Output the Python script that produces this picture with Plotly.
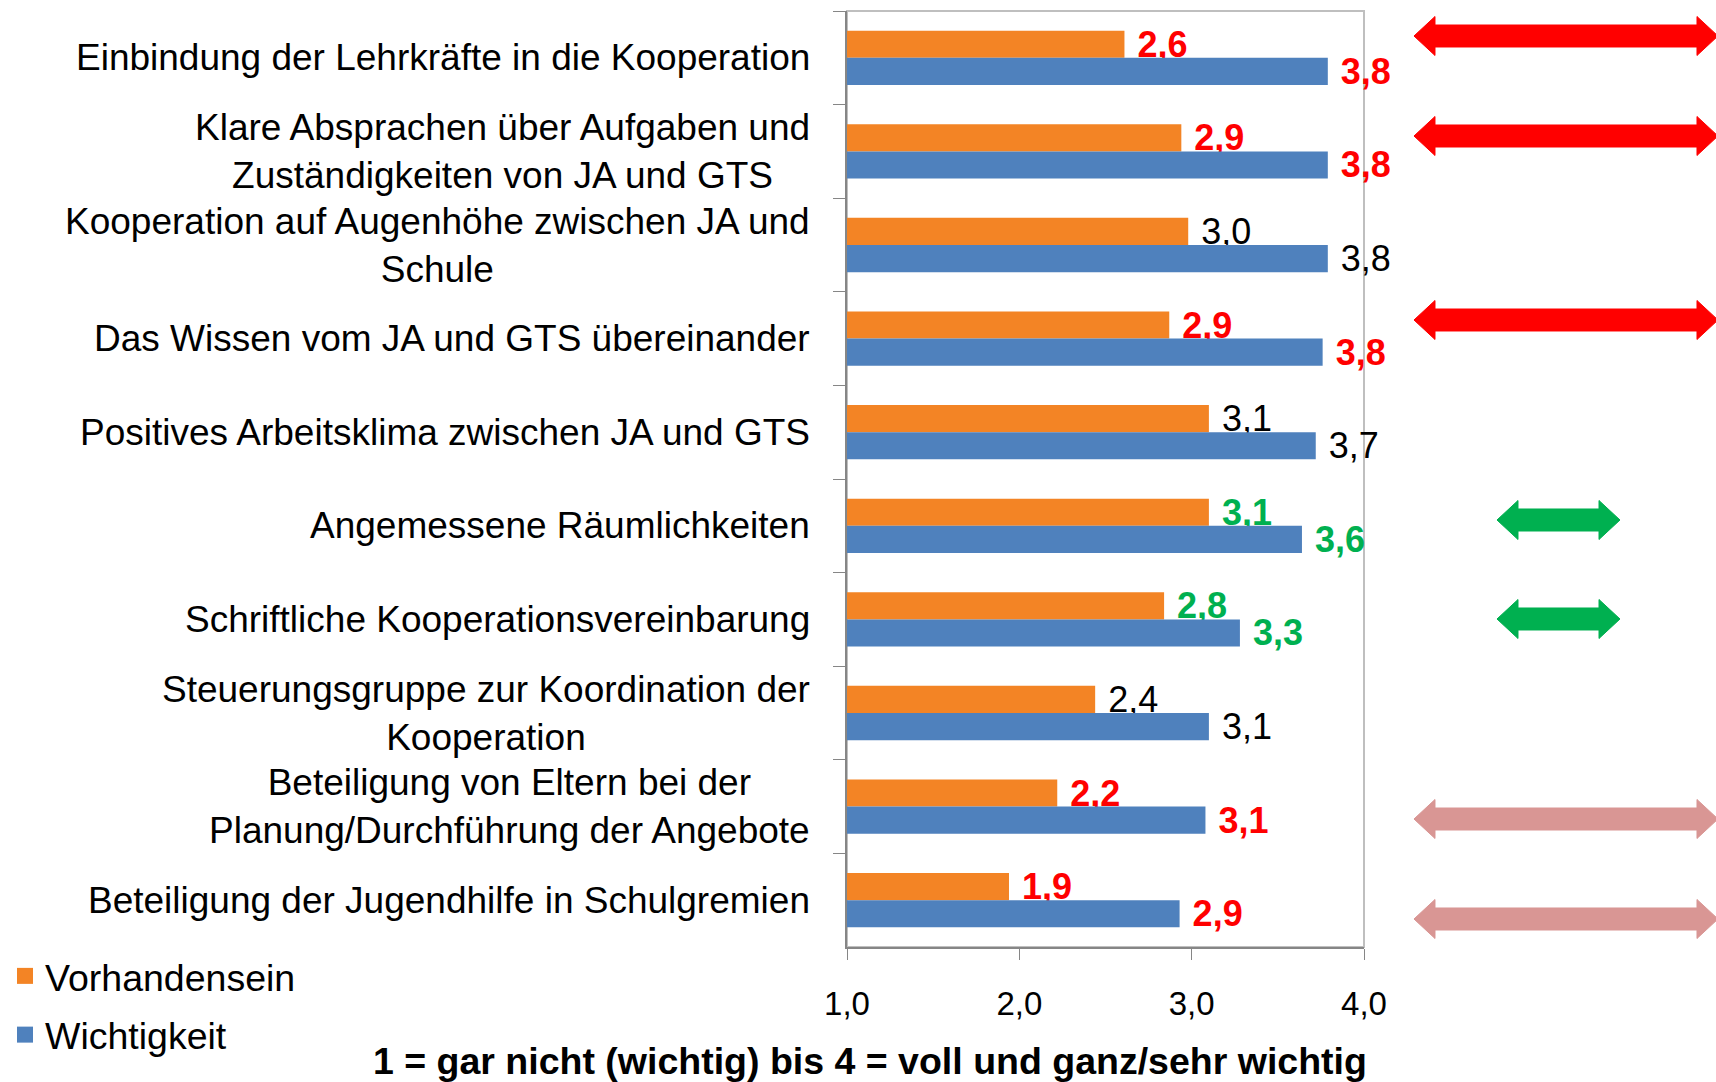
import plotly.graph_objects as go

# ---------------- data ----------------
categories = [
    "Einbindung der Lehrkräfte in die Kooperation",
    "Klare Absprachen über Aufgaben und<br>Zuständigkeiten von JA und GTS",
    "Kooperation auf Augenhöhe zwischen JA und<br>Schule",
    "Das Wissen vom JA und GTS übereinander",
    "Positives Arbeitsklima zwischen JA und GTS",
    "Angemessene Räumlichkeiten",
    "Schriftliche Kooperationsvereinbarung",
    "Steuerungsgruppe zur Koordination der<br>Kooperation",
    "Beteiligung von Eltern bei der<br>Planung/Durchführung der Angebote",
    "Beteiligung der Jugendhilfe in Schulgremien",
]
vorhandensein = [2.61, 2.94, 2.98, 2.87, 3.10, 3.10, 2.84, 2.44, 2.22, 1.94]
wichtigkeit = [3.79, 3.79, 3.79, 3.76, 3.72, 3.64, 3.28, 3.10, 3.08, 2.93]
series_names = ["Vorhandensein", "Wichtigkeit"]
x_tick_values = [1, 2, 3, 4]
x_axis_title = "1 = gar nicht (wichtig) bis 4 = voll und ganz/sehr wichtig"
scale_min = 1

# per-category highlight of the value labels (style)
label_color = ["#FF0000", "#FF0000", "#000000", "#FF0000", "#000000",
               "#00B050", "#00B050", "#000000", "#FF0000", "#FF0000"]

# ---------------- styles ----------------
FONT = "Liberation Sans, Arial, sans-serif"
ORANGE = "#F38425"
BLUE = "#4F81BD"
W, H = 1716, 1082
ML, MR, MT, MB = 847, 352, 11, 135
PW, PH = W - ML - MR, H - MT - MB


def px_x(p):
    return (p - ML) / PW


def px_y(p):
    return (H - MB - p) / PH


def fmt(v, col):
    s = "\u00a0" + f"{v:.1f}".replace(".", ",")
    return s if col == "#000000" else f"<b>{s}</b>"


fig = go.Figure()
for name, vals, col in [(series_names[0], vorhandensein, ORANGE),
                        (series_names[1], wichtigkeit, BLUE)]:
    fig.add_trace(go.Bar(
        name=name, orientation="h", y=categories,
        x=[v - scale_min for v in vals], base=scale_min,
        customdata=vals,
        text=[fmt(v, c) for v, c in zip(vals, label_color)],
        textposition="outside", textangle=0, constraintext="none",
        cliponaxis=False,
        textfont=dict(family=FONT, size=36, color=label_color),
        marker=dict(color=col, line=dict(width=0)),
        hovertemplate="%{y}: %{customdata:.1f}<extra>" + name + "</extra>",
        showlegend=False,
    ))
    # legend entry with a larger square symbol
    fig.add_trace(go.Scatter(
        x=[None], y=[None], mode="markers", name=name, legendgroup=name,
        marker=dict(symbol="square", size=20, color=col),
    ))

# category labels (centered multi-line, right-aligned block)
annotations = []
for c in categories:
    annotations.append(dict(
        x=px_x(812), xref="paper", y=c, yref="y", xanchor="right",
        yanchor="middle", align="center", showarrow=False, text=c,
        font=dict(family=FONT, size=37, color="#000000")))
annotations.append(dict(
    x=px_x(870), xref="paper", y=px_y(1061), yref="paper", xanchor="center",
    yanchor="middle", showarrow=False, text="<b>" + x_axis_title + "</b>",
    font=dict(family=FONT, size=37.5, color="#000000")))


def arrow(x0, x1, yc, color, hl=21, sh=11, hh=19.5):
    pts = [(x0, yc), (x0 + hl, yc - hh), (x0 + hl, yc - sh), (x1 - hl, yc - sh),
           (x1 - hl, yc - hh), (x1, yc), (x1 - hl, yc + hh), (x1 - hl, yc + sh),
           (x0 + hl, yc + sh), (x0 + hl, yc + hh)]
    path = "M " + " L ".join(f"{px_x(a):.5f},{px_y(b):.5f}" for a, b in pts) + " Z"
    return dict(type="path", xref="paper", yref="paper", path=path,
                fillcolor=color, line=dict(color=color, width=1), layer="above")


RED, GREEN, PINK = "#FF0000", "#00B050", "#D99694"
shapes = [
    dict(type="rect", xref="paper", yref="paper", x0=0, x1=1, y0=0, y1=1,
         line=dict(color="#BFBFBF", width=2), layer="below"),
    arrow(1414, 1718, 36, RED),
    arrow(1414, 1718, 136, RED),
    arrow(1414, 1718, 320, RED),
    arrow(1497, 1620, 520, GREEN),
    arrow(1497, 1620, 619, GREEN),
    arrow(1414, 1718, 819, PINK),
    arrow(1414, 1718, 919, PINK),
]

fig.update_layout(
    width=W, height=H,
    margin=dict(l=ML, r=MR, t=MT, b=MB, pad=0, autoexpand=False),
    paper_bgcolor="white", plot_bgcolor="white",
    barmode="group", bargap=0.42, bargroupgap=0,
    separators=", ",
    font=dict(family=FONT, size=35, color="#000000"),
    showlegend=True,
    legend=dict(x=px_x(5), xanchor="left", y=px_y(945), yanchor="top",
                font=dict(family=FONT, size=37.5, color="#000000"),
                traceorder="grouped", tracegroupgap=7,
                bgcolor="rgba(0,0,0,0)", itemsizing="trace"),
    xaxis=dict(range=[1, 4], tickvals=x_tick_values, tickformat=".1f",
               showgrid=False, zeroline=False, showline=True,
               linecolor="#868686", linewidth=2, ticks="outside",
               ticklen=11, tickcolor="#868686", tickwidth=1,
               ticklabelstandoff=15, automargin=False,
               tickfont=dict(family=FONT, size=33, color="#000000")),
    yaxis=dict(type="category", categoryorder="array", categoryarray=categories,
               range=[len(categories) - 0.5, -0.5], showticklabels=False,
               showgrid=False, zeroline=False, showline=True,
               linecolor="#868686", linewidth=2, ticks="outside",
               tickson="boundaries", ticklen=12, tickcolor="#868686",
               tickwidth=1, automargin=False),
    annotations=annotations,
    shapes=shapes,
)

fig.write_html(
    "out.html",
    config={"displayModeBar": False},
    post_script="document.body.style.margin='0';"
                "document.body.style.overflow='hidden';",
)
